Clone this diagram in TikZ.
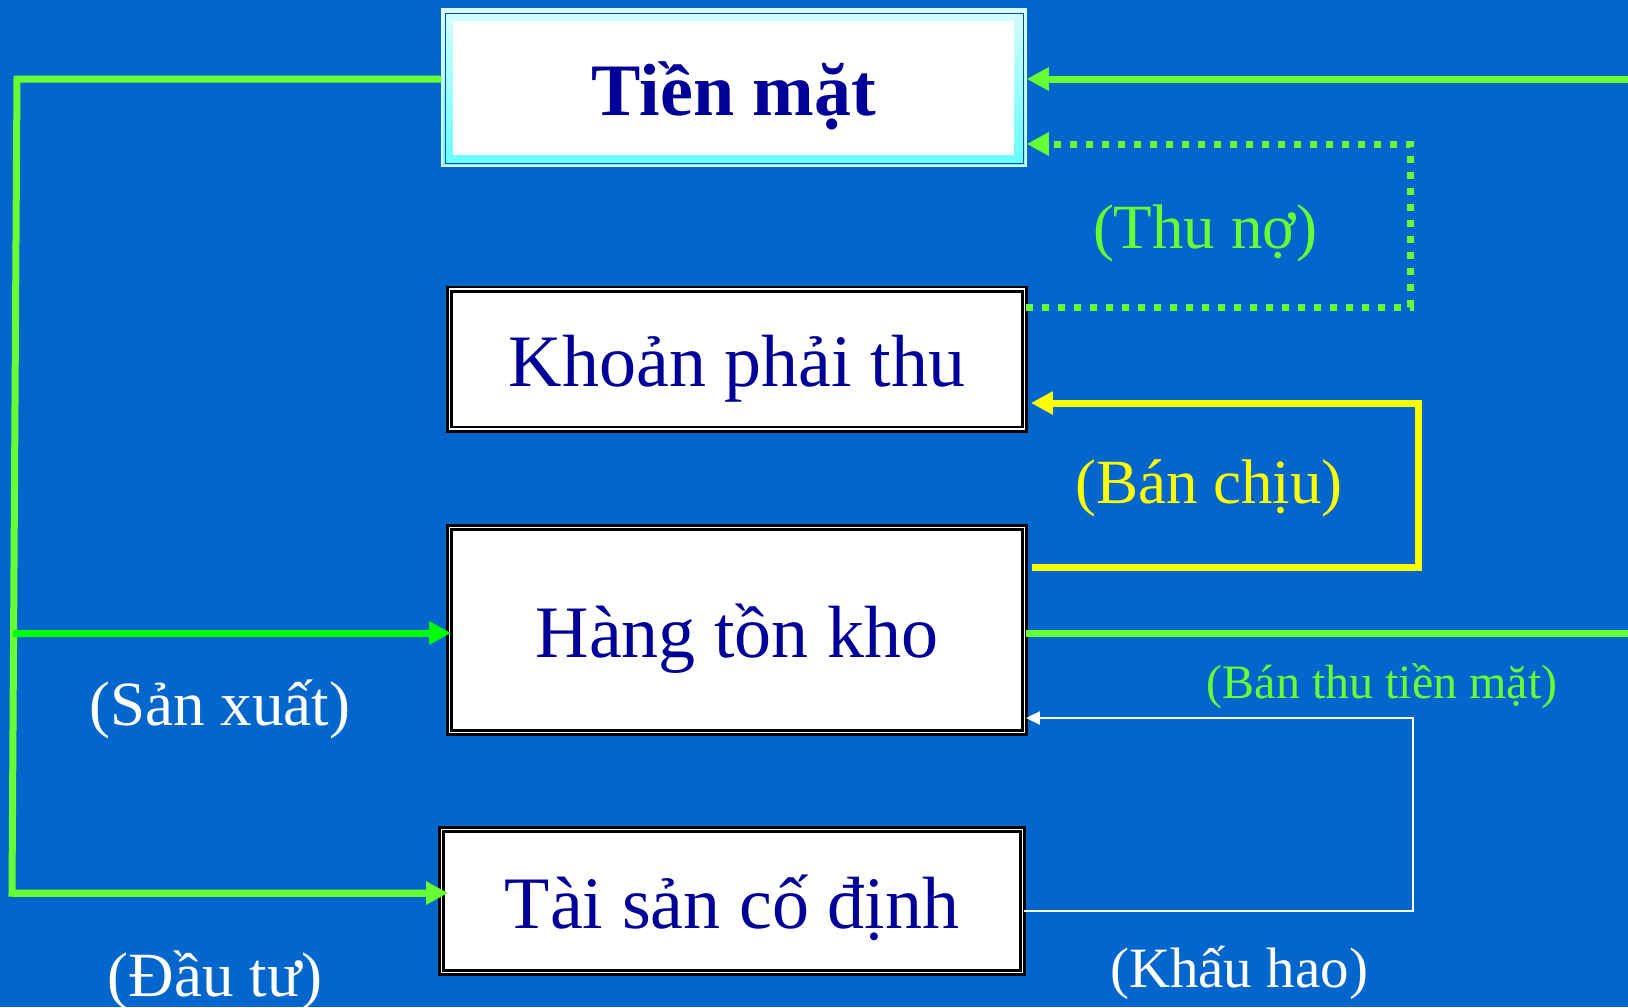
\documentclass[tikz,border=0pt]{standalone}
\usepackage{fontspec}
\setmainfont{Liberation Serif}
\usetikzlibrary{arrows.meta}
\definecolor{bg}{RGB}{3,102,204}
\definecolor{navy}{RGB}{0,0,153}
\definecolor{lime}{RGB}{102,255,51}
\definecolor{brightgreen}{RGB}{0,255,0}
\definecolor{yel}{RGB}{255,255,0}
\definecolor{tmpale}{RGB}{215,255,255}
\definecolor{tmcyan}{RGB}{100,255,255}
\definecolor{tmdark}{RGB}{0,80,170}
\tikzset{
  boxfont/.style={font=\fontsize{74}{80}\selectfont, text=navy, text height=55pt, text depth=0pt},
  acctbox/.style={boxfont, draw=black, double=white, line width=2.8pt, double distance=1.4pt,
    fill=white, inner sep=0pt},
  cashbox/.style={boxfont, font=\fontsize{74}{80}\selectfont\bfseries, inner sep=0pt,
    draw=tmpale, line width=1.5pt, top color=tmpale, bottom color=tmcyan,
    path picture={
      \draw[tmdark, line width=1pt]
        ([xshift=3pt,yshift=-4pt]path picture bounding box.north west) rectangle
        ([xshift=-3pt,yshift=3pt]path picture bounding box.south east);
      \fill[white]
        ([xshift=11pt,yshift=-12pt]path picture bounding box.north west) rectangle
        ([xshift=-12pt,yshift=11pt]path picture bounding box.south east);
    }},
  flow/.style={line width=7pt, line cap=butt, line join=miter},
  bigtip/.style={-{Triangle[length=22pt,width=22pt]}},
  smalltip/.style={-{Triangle[length=14pt,width=13pt]}},
  lbl/.style={anchor=base, inner sep=0pt, font=\fontsize{63}{70}\selectfont},
}
\begin{document}
\begin{tikzpicture}[x=1pt, y=-1pt]
\fill[bg] (0,0) rectangle (1628,1007);
\useasboundingbox (0,0) rectangle (1628,1007);

% boxes
\node[cashbox, minimum width=584pt, minimum height=157pt] (tm) at (734,87.5) {Tiền mặt};
\node[acctbox, minimum width=575pt, minimum height=140pt] (kpt) at (737,359) {Khoản phải thu};
\node[acctbox, minimum width=575pt, minimum height=205pt] (htk) at (737,630) {Hàng tồn kho};
\node[acctbox, minimum width=581pt, minimum height=143pt] (tscd) at (732,901) {Tài sản cố định};

% helper coordinates
\coordinate (LT) at (17,79);
\coordinate (LB) at (12,893);
\coordinate (LM) at (13,633);
\coordinate (RT) at (1628,79);
\coordinate (RM) at (1628,633);
\coordinate (DA) at (1410,307);
\coordinate (DB) at (1410,144);
\coordinate (YA) at (1418,567);
\coordinate (YB) at (1418,403);
\coordinate (WA) at (1413,911);
\coordinate (WB) at (1413,718);

% left green: cash to production / investment
\draw[flow, lime] ([yshift=8.5pt]tm.west) -- (LT) -- (LB) -- (LB -| tscd.west);
\draw[flow, lime, bigtip] (LB) -- ([xshift=8pt,yshift=8pt]tscd.west);
\draw[flow, brightgreen, bigtip] (LM) -- ([xshift=3pt,yshift=-3pt]htk.west);

% right green: cash sales
\draw[flow, lime, bigtip] (RT) -- ([yshift=8.5pt]tm.east);
\draw[flow, lime] ([yshift=-3pt]htk.east) -- (RM);

% dotted: collection
\draw[flow, lime, dash pattern=on 7pt off 9pt, bigtip]
  ([yshift=52pt]kpt.east) -- (DA) -- (DB) -- ([yshift=-56.5pt]tm.east);

% yellow: credit sales
\draw[flow, yel, bigtip]
  ([xshift=6pt,yshift=63pt]htk.east) -- (YA) -- (YB) -- ([xshift=5pt,yshift=-44pt]kpt.east);

% white: depreciation
\draw[white, line width=2pt, smalltip]
  ([yshift=-10pt]tscd.east) -- (WA) -- (WB) -- ([yshift=-88pt]htk.east);

% labels
\node[lbl, text=lime] (l1) at (1205,248) {(Thu nợ)};
\node[lbl, text=yel] (l2) at (1209,503) {(Bán chịu)};
\node[lbl, text=lime, font=\fontsize{48}{54}\selectfont] (l3) at (1382,698) {(Bán thu tiền mặt)};
\node[lbl, text=white] (l4) at (220,725) {(Sản xuất)};
\node[lbl, text=white] (l5) at (215,996) {(Đầu tư)};
\node[lbl, text=white, font=\fontsize{57}{64}\selectfont] (l6) at (1239,987) {(Khấu hao)};
\end{tikzpicture}
\end{document}
